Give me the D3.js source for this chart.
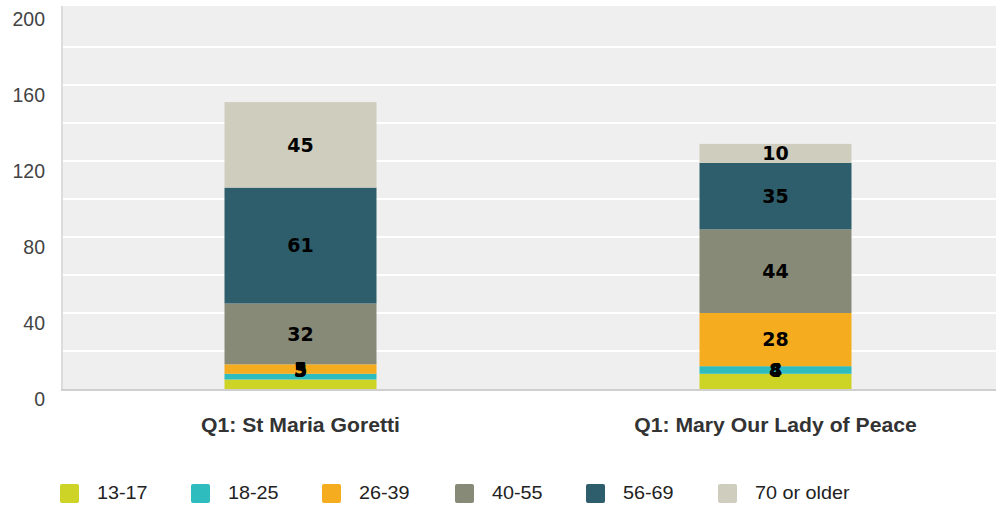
<!DOCTYPE html>
<html><head><meta charset="utf-8">
<script src="https://cdn.jsdelivr.net/npm/d3@7"></script>
<style>html,body{margin:0;padding:0;background:#fff;overflow:hidden}svg{display:block;font-family:"Liberation Sans",Arial,sans-serif}</style>
</head><body><svg id="c" width="996" height="505"></svg>
<script>
const categories = ["Q1: St Maria Goretti", "Q1: Mary Our Lady of Peace"];
const seriesNames = ["13-17", "18-25", "26-39", "40-55", "56-69", "70 or older"];
const seriesValues = [
  [5, 8],
  [3, 4],
  [5, 28],
  [32, 44],
  [61, 35],
  [45, 10]
];
const colors = ["#cdd426", "#2fbcbf", "#f5ac1e", "#878a77", "#2e5e6b", "#cfcdbd"];
const yTicks = [0, 40, 80, 120, 160, 200];
const yGrid = [20, 40, 60, 80, 100, 120, 140, 160, 180];

(function () {
const svg = d3.select("#c");
const pL = 63, pR = 1013, pT = 9, pB = 389;
const x = d3.scaleBand().domain(categories).range([pL, pR]).paddingInner(0.68).paddingOuter(0.34);
const y = d3.scaleLinear().domain([0, 200]).range([pB, pT]);

svg.append("rect").attr("x", pL).attr("y", pT - 3).attr("width", pR - pL).attr("height", pB - pT + 3).attr("fill", "#efefef");
svg.append("g").selectAll("line").data(yGrid).join("line")
  .attr("x1", pL).attr("x2", pR).attr("y1", d => y(d)).attr("y2", d => y(d))
  .attr("stroke", "#fff").attr("stroke-width", 2);
svg.append("line").attr("x1", pL - 1).attr("x2", pL - 1).attr("y1", pT - 3).attr("y2", pB).attr("stroke", "#dcdcdc").attr("stroke-width", 2);

// y axis labels
const yAxis = d3.axisLeft(y).tickValues(yTicks).tickSize(0).tickPadding(0);
const ga = svg.append("g").attr("transform", "translate(45,0)").call(yAxis);
ga.select(".domain").remove();
ga.selectAll("text").attr("font-size", 19.5).attr("fill", "#444").attr("dy", null).attr("y", 16)
  .attr("font-family", "Liberation Sans, Arial, sans-serif");

const stackData = categories.map((c, i) => {
  const o = {cat: c};
  seriesNames.forEach((s, j) => o[s] = seriesValues[j][i]);
  return o;
});
const stack = d3.stack().keys(seriesNames)(stackData);

const gs = svg.append("g");
stack.forEach((layer, j) => {
  gs.append("g").selectAll("rect").data(layer).join("rect")
    .attr("x", d => x(d.data.cat)).attr("width", x.bandwidth())
    .attr("y", d => y(d[1])).attr("height", d => y(d[0]) - y(d[1]))
    .attr("fill", colors[j]);
});
stack.forEach((layer, j) => {
  gs.append("g").selectAll("text").data(layer).join("text")
    .attr("x", d => x(d.data.cat) + x.bandwidth() / 2)
    .attr("y", d => Math.min((y(d[0]) + y(d[1])) / 2, pB - 19))
    .attr("dy", "0.36em").attr("text-anchor", "middle")
    .attr("font-family", "DejaVu Sans, Verdana, sans-serif")
    .attr("font-size", 19).attr("font-weight", "bold").attr("fill", "#000")
    .text(d => d[1] - d[0]);
});

svg.append("rect").attr("x", pL - 2).attr("y", pB).attr("width", pR - pL).attr("height", 2).attr("fill", "#cfcfcf");

// category labels
const xAxis = d3.axisBottom(x).tickSize(0).tickPadding(0);
const gx = svg.append("g").attr("transform", "translate(0,0)").call(xAxis);
gx.select(".domain").remove();
gx.selectAll(".tick").attr("transform", d => `translate(${x(d) + x.bandwidth() / 2},432) scale(1.06,1)`);
gx.selectAll("text").attr("y", 0).attr("dy", null).attr("font-size", 20).attr("font-weight", "bold").attr("fill", "#333")
  .attr("font-family", "Liberation Sans, Arial, sans-serif");

// legend
const legX = [60, 191, 322, 455, 586, 718];
const lg = svg.append("g");
seriesNames.forEach((s, j) => {
  lg.append("rect").attr("x", legX[j]).attr("y", 484).attr("width", 19).attr("height", 19).attr("rx", 2).attr("fill", colors[j]);
  lg.append("text").attr("transform", `translate(${legX[j] + 37},499) scale(1.1,1)`)
    .attr("font-size", 18).attr("fill", "#222").text(s);
});
})();
</script></body></html>
